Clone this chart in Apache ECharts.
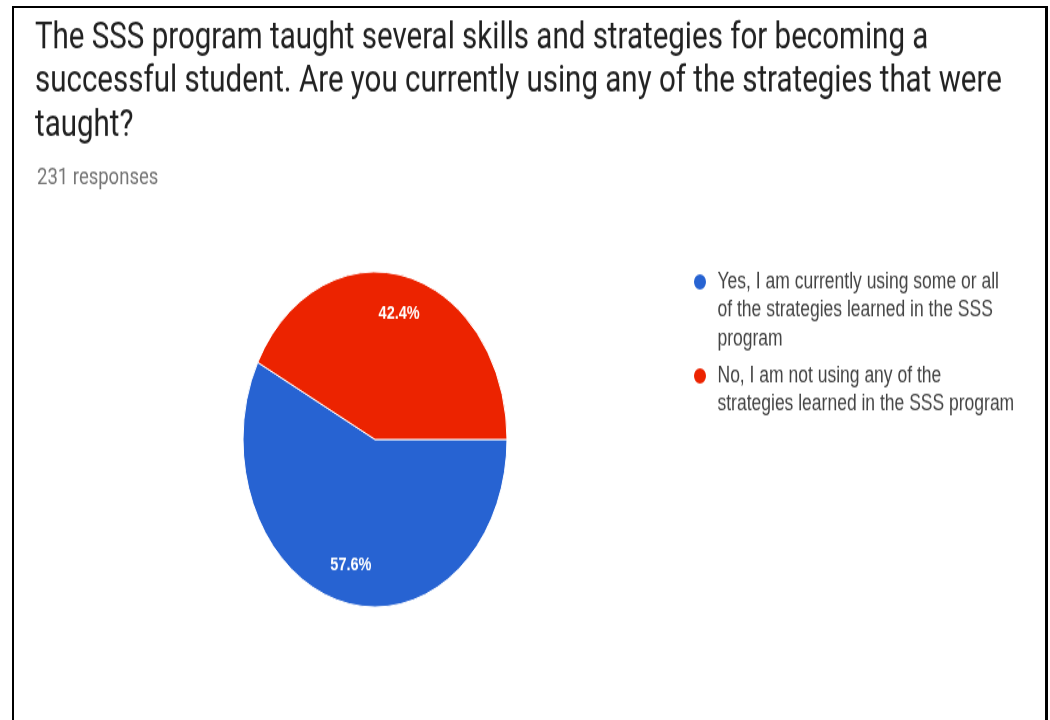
<!DOCTYPE html>
<html>
<head>
<meta charset="utf-8">
<title>SSS strategies survey</title>
<script src="https://cdn.jsdelivr.net/npm/echarts@6/dist/echarts.min.js"></script>
<style>
  html, body { margin: 0; padding: 0; background: #fff; width: 1050px; height: 720px; overflow: hidden; }
  /* the chart is laid out in a shorter box and stretched to the full height */
  #chart { position: absolute; left: 0; top: 0; width: 1050px; height: 567px; transform: scaleY(1.27); transform-origin: 0 0; }
  #frame { position: absolute; left: 12px; top: 6px; width: 1036px; height: 760px; box-sizing: border-box;
           border-left: 2px solid #000; border-top: 2px solid #000; border-right: 3px solid #000; pointer-events: none; }
</style>
</head>
<body>
<div id="chart"></div>
<div id="frame"></div>
<script>
// Survey question and response count
const question = 'The SSS program taught several skills and strategies for becoming a\nsuccessful student. Are you currently using any of the strategies that were\ntaught?';
const responses = '231 responses';

// Answer options, their wrapped legend text, and share of responses (%)
const answers = [
  'Yes, I am currently using some or all of the strategies learned in the SSS program',
  'No, I am not using any of the strategies learned in the SSS program'
];
const legendLines = [
  'Yes, I am currently using some or all\nof the strategies learned in the SSS\nprogram',
  'No, I am not using any of the\nstrategies learned in the SSS program'
];
const shares = [57.6, 42.4];

const TITLE_FONT = 'Roboto, "Noto Sans", sans-serif';
const BODY_FONT = '"Liberation Sans", Arial, sans-serif';
const LEGEND_LINE = 22.5;

const slices = answers.map((name, i) => ({ name, value: shares[i] }));

// Legend text is centred on its marker, so blank lines are put in front
// to bring the first written line level with the marker.
function legendText(name) {
  const text = legendLines[answers.indexOf(name)];
  const extra = text.split('\n').length - 1;
  return '\n'.repeat(extra) + text;
}

const chart = echarts.init(document.getElementById('chart'));
chart.setOption({
  animation: false,
  color: ['#2763d2', '#ec2300'],
  title: [
    {
      text: question,
      left: 35, top: 13, padding: 0,
      textStyle: { fontFamily: TITLE_FONT, fontSize: 29.5, lineHeight: 34.5, fontWeight: 'normal', color: '#212121' }
    },
    {
      text: responses,
      left: 37, top: 129, padding: 0,
      textStyle: { fontFamily: TITLE_FONT, fontSize: 18.5, lineHeight: 22, fontWeight: 'normal', color: '#757575' }
    }
  ],
  legend: {
    orient: 'vertical',
    left: 692, top: 165.75, padding: 0,
    itemWidth: 25, itemHeight: 14, itemGap: -16,
    icon: 'circle',
    selectedMode: false,
    textStyle: { fontFamily: BODY_FONT, fontSize: 17.5, lineHeight: LEGEND_LINE, color: '#444' },
    data: answers,
    formatter: legendText
  },
  series: [
    {
      type: 'pie',
      center: [375, 346],
      radius: 132,
      startAngle: 0,
      clockwise: true,
      legendHoverLink: false,
      itemStyle: { borderColor: '#ffffff', borderWidth: 1 },
      label: { show: false },
      labelLine: { show: false },
      emphasis: { disabled: true },
      data: slices
    },
    {
      // transparent ring that carries the percentage labels further out
      type: 'pie',
      center: [375, 346],
      radius: [66, 132],
      startAngle: 0,
      clockwise: true,
      silent: true,
      legendHoverLink: false,
      itemStyle: { color: 'rgba(0,0,0,0)' },
      label: {
        show: true, position: 'inside', formatter: '{c}%',
        fontFamily: BODY_FONT, fontSize: 14.5, fontWeight: 'bold', color: '#ffffff'
      },
      labelLine: { show: false },
      emphasis: { disabled: true },
      data: slices
    }
  ]
});
</script>
</body>
</html>
